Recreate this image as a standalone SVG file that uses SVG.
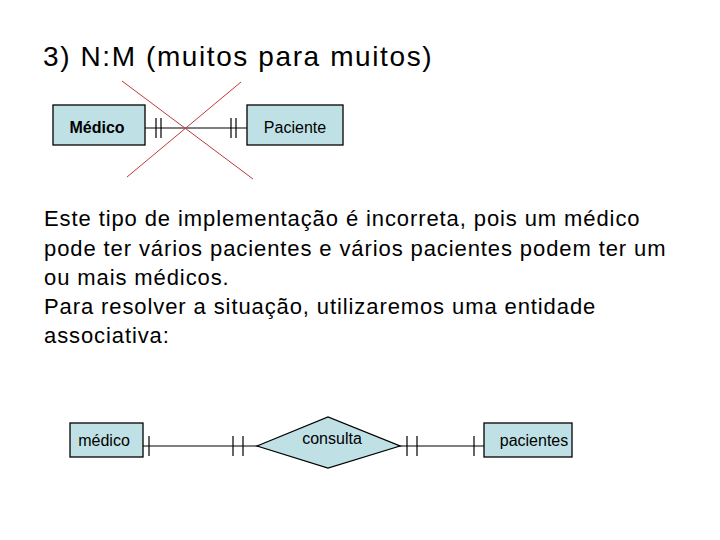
<svg xmlns="http://www.w3.org/2000/svg" width="720" height="540" viewBox="0 0 720 540">
<style>
.box{fill:#bfe1e6;stroke:#000;stroke-width:1.3}
.ln{stroke:#000;stroke-width:1.2;fill:none}
.t{font-family:"Liberation Sans",Arial,sans-serif;fill:#000}
.x{stroke:#c0393b;stroke-width:1}
</style>
<rect width="720" height="540" fill="#fff"/>
<text class="t" x="43" y="66" font-size="28" letter-spacing="1.6">3) N:M (muitos para muitos)</text>
<g id="connectors">
<line class="ln" x1="145" y1="128" x2="247" y2="128"/>
<path class="ln" d="M156 118V138M161 118V138M231 118V138M236 118V138"/>
<line class="ln" x1="143" y1="446" x2="262" y2="446"/>
<line class="ln" x1="396" y1="446" x2="484" y2="446"/>
<path class="ln" d="M149 436V456M233 436V456M243 436V456M407 436V456M417 436V456M474 436V456"/>
</g>
<g id="medico1"><rect class="box" x="53" y="105" width="92" height="40"/><text class="t" x="97" y="133" font-size="16" font-weight="bold" text-anchor="middle">Médico</text></g>
<g id="paciente1"><rect class="box" x="247" y="105" width="96" height="40"/><text class="t" x="295" y="133" font-size="16" text-anchor="middle">Paciente</text></g>
<g id="cross"><line class="x" x1="122" y1="81" x2="253" y2="179"/><line class="x" x1="241" y1="82" x2="127" y2="177"/></g>
<text class="t" font-size="22" letter-spacing="0.9"><tspan x="44" y="226">Este tipo de implementação é incorreta, pois um médico</tspan><tspan x="44" y="256">pode ter vários pacientes e vários pacientes podem ter um</tspan><tspan x="44" y="285">ou mais médicos.</tspan><tspan x="44" y="314">Para resolver a situação, utilizaremos uma entidade</tspan><tspan x="44" y="343">associativa:</tspan></text>
<g id="medico2"><rect class="box" x="70" y="423" width="73" height="34"/><text class="t" x="104" y="446" font-size="16" text-anchor="middle">médico</text></g>
<g id="consulta"><polygon class="box" points="257,446 328,417 400,446 328,468"/><text class="t" x="332" y="444" font-size="16" text-anchor="middle">consulta</text></g>
<g id="pacientes"><rect class="box" x="484" y="423" width="88" height="34"/><text class="t" x="534" y="446" font-size="16" text-anchor="middle">pacientes</text></g>
</svg>
